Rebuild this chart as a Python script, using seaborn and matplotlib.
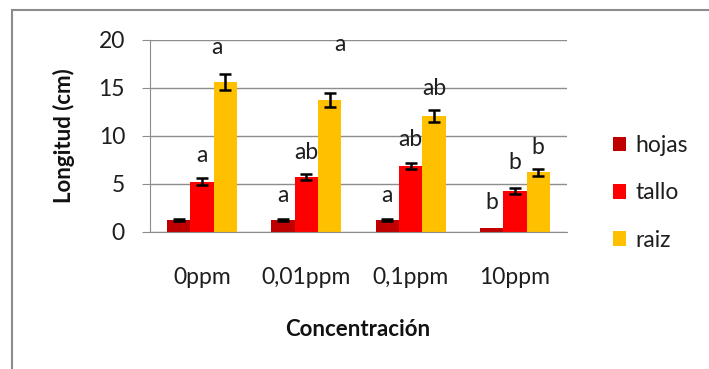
import matplotlib
matplotlib.use("Agg")
import matplotlib.pyplot as plt
import seaborn as sns
import pandas as pd
import numpy as np
from matplotlib.patches import Rectangle, Patch

categories = ["0ppm", "0,01ppm", "0,1ppm", "10ppm"]
organs = ["hojas", "tallo", "raiz"]
hojas = [1.25, 1.25, 1.25, 0.4]
tallo = [5.25, 5.7, 6.9, 4.3]
raiz = [15.6, 13.75, 12.1, 6.2]
hojas_err = [0.1, 0.1, 0.1, 0.0]
tallo_err = [0.35, 0.3, 0.3, 0.3]
raiz_err = [0.85, 0.7, 0.6, 0.35]
# significance letters and their label heights (cm)
hojas_let = ["", "a", "a", "b"]
tallo_let = ["a", "ab", "ab", "b"]
raiz_let = ["a", "a", "ab", "b"]
hojas_let_y = [0, 3.85, 3.85, 3.1]
tallo_let_y = [8.0, 8.3, 9.6, 7.2]
raiz_let_y = [19.2, 19.5, 14.9, 8.85]
raiz_let_dx = [-0.35, 0.43, 0, 0]

colors = ["#C00000", "#FF0000", "#FFC000"]

rows = []
for org, vals in zip(organs, [hojas, tallo, raiz]):
    for c, v in zip(categories, vals):
        rows.append({"Concentración": c, "organ": org, "Longitud": v})
df = pd.DataFrame(rows)

sns.set_style("white")
plt.rcParams["font.family"] = ["Lato", "DejaVu Sans"]

W, H = 709, 369
fig = plt.figure(figsize=(W / 100, H / 100), dpi=100)
ax = fig.add_axes([150 / W, 1 - 232 / H, 417 / W, 192 / H])

sns.barplot(data=df, x="Concentración", y="Longitud", hue="organ",
            order=categories, hue_order=organs, palette=colors,
            width=0.67, saturation=1, ax=ax, legend=False, linewidth=0)

errs = [hojas_err, tallo_err, raiz_err]
vals_all = [hojas, tallo, raiz]
lets = [hojas_let, tallo_let, raiz_let]
lets_y = [hojas_let_y, tallo_let_y, raiz_let_y]
bar_conts = list(ax.containers)
for i, cont in enumerate(bar_conts):
    xs = [p.get_x() + p.get_width() / 2 for p in cont.patches]
    bw = cont.patches[0].get_width()
    e = np.array(errs[i])
    mask = e > 0
    ax.errorbar(np.array(xs)[mask], np.array(vals_all[i])[mask], yerr=e[mask],
                fmt="none", ecolor="black", elinewidth=1.8, capsize=4.5,
                capthick=1.8, zorder=5)
    for j, x in enumerate(xs):
        dx = raiz_let_dx[j] * bw if i == 2 else 0
        if lets[i][j]:
            ax.text(x + dx, lets_y[i][j], lets[i][j], ha="center", va="center",
                    fontsize=16.5, color="#1e1e1e")

ax.set_ylim(0, 20)
ax.set_xlim(-0.5, 3.5)
ax.set_yticks([0, 5, 10, 15, 20])
ax.yaxis.grid(True, color="#8c8c8c", linewidth=1)
ax.set_axisbelow(True)
for s in ["top", "right"]:
    ax.spines[s].set_visible(False)
ax.spines["left"].set_color("#8c8c8c")
ax.spines["bottom"].set_color("#8c8c8c")
ax.tick_params(axis="y", which="both", left=True, length=6, color="#8c8c8c",
               labelsize=16.5, pad=12, labelcolor="#1e1e1e")
ax.tick_params(axis="x", bottom=False, labelsize=16.5, pad=22, labelcolor="#1e1e1e")
ax.set_xlabel("")
ax.set_ylabel("")

fig.text(64 / W, 1 - 136 / H, "Longitud (cm)", rotation=90, ha="center", va="center",
         fontsize=16, fontweight="bold", color="#111111")
fig.text(358 / W, 1 - 330 / H, "Concentración", ha="center", va="center",
         fontsize=16, fontweight="bold", color="#111111")

handles = [Patch(facecolor=c, edgecolor="none") for c in colors]
fig.legend(handles, organs, loc="center left", bbox_to_anchor=(592 / W, 1 - 193 / H),
           frameon=False, fontsize=16.5, handlelength=0.6, handleheight=0.6,
           handletextpad=0.4, labelspacing=1.15, labelcolor="#1e1e1e")

fig.add_artist(Rectangle((12 / W, -0.1), 1.2, (1 - 10 / H) + 0.1,
                         transform=fig.transFigure, fill=False,
                         edgecolor="#8c8c8c", linewidth=1.5))

fig.savefig("out.png", dpi=100)
